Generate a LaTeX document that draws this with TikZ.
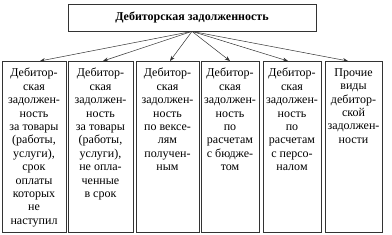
\documentclass[tikz,border=0pt]{standalone}
\usepackage{fontspec}
\setmainfont{Liberation Serif}
\usetikzlibrary{arrows.meta}
\tikzset{
	topbox/.style={draw=black!80,line width=0.8pt,minimum width=248pt,minimum height=27pt,inner sep=0pt,font=\bfseries\fontsize{12}{14}\selectfont},
	kindbox/.style={draw=black!80,line width=0.8pt,anchor=north,inner xsep=1pt,inner ysep=7pt,font=\fontsize{12}{13.4}\selectfont},
	linkarrow/.style={-{Stealth[length=1.8mm,width=1.4mm]},line width=0.5pt,draw=black!80}
}
\newcommand{\kindtext}[2]{\parbox[t][157pt][t]{#1}{\centering #2}}

\begin{document}
\begin{tikzpicture}[x=1pt,y=1pt]
	\useasboundingbox (0,0) rectangle (392,235);
	\node[topbox] (debt) at (192,217.5) {Дебиторская задолженность};
	% kinds of receivables
	\node[kindbox] (k1) at (34,174) {\kindtext{62pt}{Дебитор-\\ская\\задолжен-\\ность\\за товары\\(работы,\\услуги),\\срок\\оплаты\\которых\\не\\наступил}};
	\node[kindbox] (k2) at (100.5,174) {\kindtext{63pt}{Дебитор-\\ская\\задолжен-\\ность\\за товары\\(работы,\\услуги),\\не опла-\\ченные\\в срок}};
	\node[kindbox] (k3) at (167.5,174) {\kindtext{61pt}{Дебитор-\\ская\\задолжен-\\ность\\по вексе-\\лям\\получен-\\ным}};
	\node[kindbox] (k4) at (230,174) {\kindtext{56pt}{Дебитор-\\ская\\задолжен-\\ность\\по\\расчетам\\с бюдже-\\том}};
	\node[kindbox] (k5) at (292,174) {\kindtext{56pt}{Дебитор-\\ская\\задолжен-\\ность\\по\\расчетам\\с персо-\\налом}};
	\node[kindbox] (k6) at (353.5,174) {\kindtext{55pt}{Прочие\\виды\\дебитор-\\ской\\задолжен-\\ности}};
	% links
	\draw[linkarrow] (debt.south) -- ([xshift=6pt]k1.north);
	\draw[linkarrow] (debt.south) -- ([xshift=2.5pt]k2.north);
	\draw[linkarrow] (debt.south) -- ([xshift=2.5pt]k3.north);
	\draw[linkarrow] (debt.south) -- (k4.north);
	\draw[linkarrow] (debt.south) -- ([xshift=-4pt]k5.north);
	\draw[linkarrow] (debt.south) -- ([xshift=-5.5pt]k6.north);
\end{tikzpicture}
\end{document}
